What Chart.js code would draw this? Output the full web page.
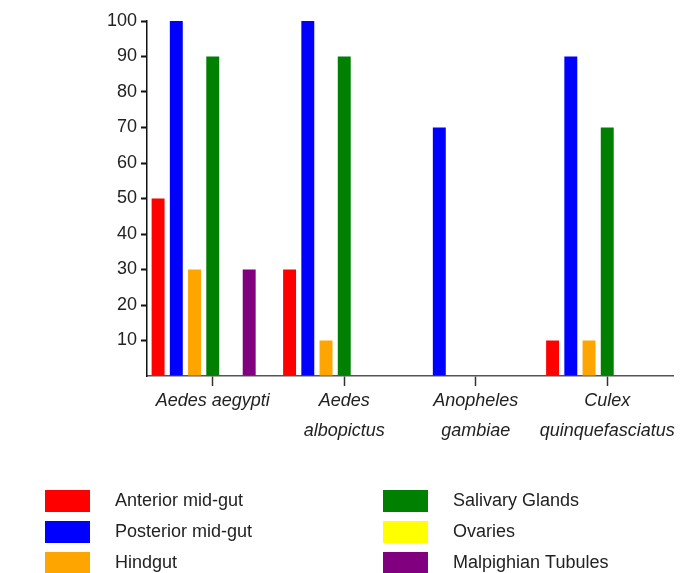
<!DOCTYPE html>
<html>
<head>
<meta charset="utf-8">
<script src="https://cdn.jsdelivr.net/npm/chart.js@4"></script>
<style>
  body { margin: 0; background: #fff; }
</style>
</head>
<body>
<canvas id="tissueChart" width="685" height="573"></canvas>
<script>
// species on the x axis (two-line labels where the original wraps)
const species = [
    "Aedes aegypti",
    ["Aedes", "albopictus"],
    ["Anopheles", "gambiae"],
    ["Culex", "quinquefasciatus"],
];

// one array per tissue, in species order
const anteriorMidgut = [50, 30, 0, 10];
const posteriorMidgut = [100, 100, 70, 90];
const hindgut = [30, 10, 0, 10];
const salivaryGlands = [90, 90, 0, 70];
const ovaries = [0, 0, 0, 0];
const malpighianTubules = [30, 0, 0, 0];

const yTicks = [10, 20, 30, 40, 50, 60, 70, 80, 90, 100];

const FONT = "'Liberation Sans', Arial, Helvetica, sans-serif";

// legend drawn in two columns of three, like the original
const columnLegend = {
    id: "columnLegend",
    afterDraw(chart) {
        const ctx = chart.ctx;
        const sets = chart.data.datasets.filter(d => d.label);
        ctx.save();
        ctx.font = "18px " + FONT;
        ctx.textBaseline = "middle";
        ctx.fillStyle = "#222";
        sets.forEach((ds, i) => {
            const col = Math.floor(i / 3);
            const row = i % 3;
            const x = col === 0 ? 45 : 383;
            const y = 490 + row * 31;
            ctx.fillStyle = ds.backgroundColor;
            ctx.fillRect(x, y, 45, 22);
            ctx.fillStyle = "#222";
            ctx.fillText(ds.label, x + 70, y + 11);
        });
        ctx.restore();
    },
};

new Chart(document.getElementById("tissueChart"), {
    type: "bar",
    data: {
        labels: species,
        datasets: [
            { label: "Anterior mid-gut", data: anteriorMidgut, backgroundColor: "#ff0000" },
            { label: "Posterior mid-gut", data: posteriorMidgut, backgroundColor: "#0000ff" },
            { label: "Hindgut", data: hindgut, backgroundColor: "#ffa500" },
            { label: "Salivary Glands", data: salivaryGlands, backgroundColor: "#008000" },
            { label: "Ovaries", data: ovaries, backgroundColor: "#ffff00" },
            { label: "Malpighian Tubules", data: malpighianTubules, backgroundColor: "#800080" },
            // empty slot so the group sits left of the tick as in the original
            { label: "", data: [0, 0, 0, 0], backgroundColor: "rgba(0,0,0,0)" },
        ],
    },
    options: {
        responsive: false,
        animation: false,
        layout: { padding: { top: 21, right: 12, left: 0, bottom: 0 } },
        datasets: {
            bar: { categoryPercentage: 0.97, barPercentage: 0.71, borderWidth: 0 },
        },
        plugins: {
            legend: { display: false },
            tooltip: { enabled: false },
        },
        scales: {
            x: {
                grid: {
                    offset: false,
                    drawOnChartArea: false,
                    tickLength: 10,
                    tickWidth: 1.5,
                    tickColor: "#333",
                },
                border: { color: "#555", width: 1.5 },
                ticks: {
                    padding: 0,
                    color: "#222",
                    maxRotation: 0,
                    autoSkip: false,
                    font: { family: FONT, size: 18, style: "italic", lineHeight: 1.667 },
                },
                afterFit(s) {
                    s.height = 197;
                    s.paddingLeft = 0;
                    s.paddingRight = 0;
                },
            },
            y: {
                min: 0,
                max: 100,
                afterBuildTicks(s) {
                    s.ticks = [0].concat(yTicks).map(v => ({ value: v }));
                },
                grid: {
                    drawOnChartArea: false,
                    tickLength: 6,
                    tickWidth: 2,
                    tickColor: ctx => (ctx.tick && ctx.tick.value === 0 ? "rgba(0,0,0,0)" : "#111"),
                },
                border: { color: "#111", width: 1.5 },
                ticks: {
                    padding: 4,
                    color: "#222",
                    font: { family: FONT, size: 18 },
                    callback: v => (v === 0 ? "" : v),
                },
                afterFit(s) {
                    s.width = 147;
                },
            },
        },
    },
    plugins: [columnLegend],
});
</script>
</body>
</html>
